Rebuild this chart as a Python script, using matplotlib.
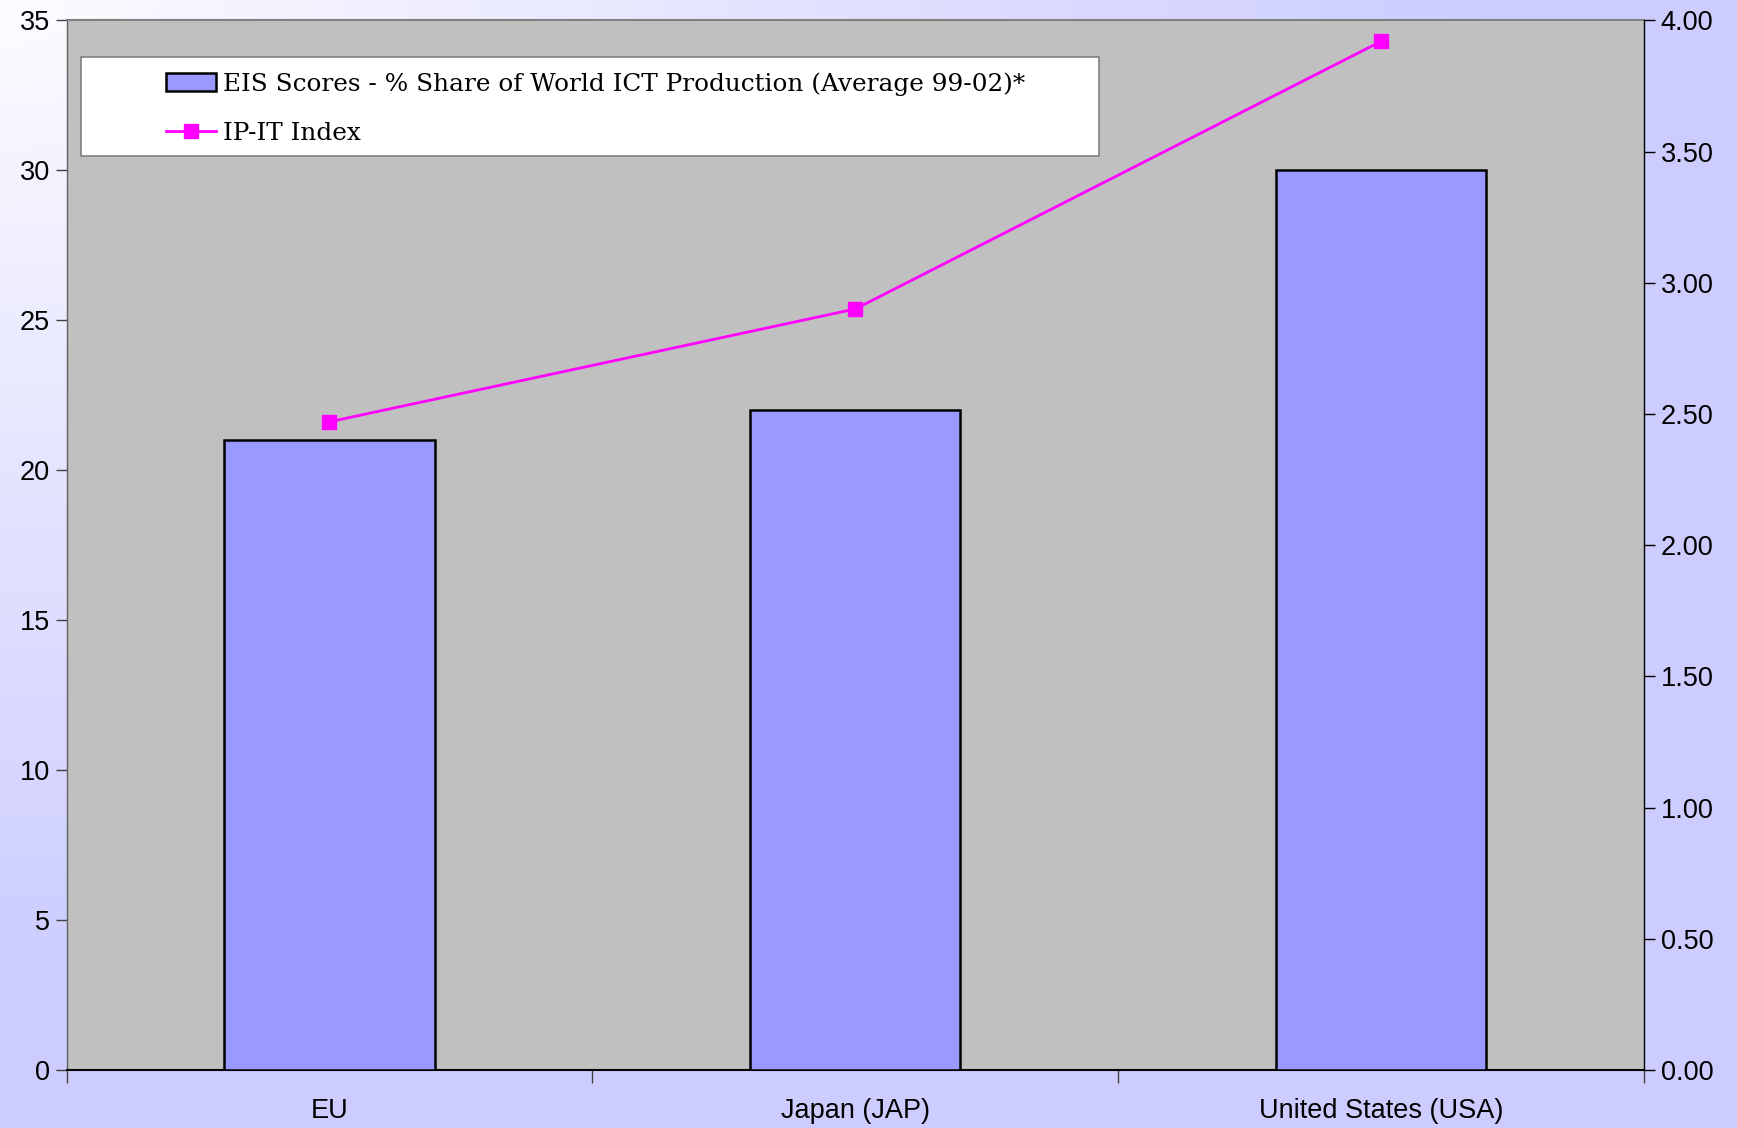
import numpy as np
import matplotlib
matplotlib.use("Agg")
import matplotlib.pyplot as plt
from matplotlib.patches import Rectangle
from matplotlib.ticker import FormatStrFormatter

categories = ["EU", "Japan (JAP)", "United States (USA)"]
ict_share = [21, 22, 30]
ipit_index = [2.47, 2.90, 3.92]

bar_label = "EIS Scores - % Share of World ICT Production (Average 99-02)*"
line_label = "IP-IT Index"

W, H = 1737, 1128
fig = plt.figure(figsize=(W / 100, H / 100), dpi=100)

# gradient background, white in the top left going to lavender
bg = fig.add_axes([0, 0, 1, 1], zorder=-10)
yy, xx = np.mgrid[0:1:200j, 0:1:300j]
t = np.clip(1.15 * np.sqrt(xx ** 2 + yy ** 2), 0, 1)[..., None]
white = np.array([252, 252, 255]) / 255
lav = np.array([204, 204, 255]) / 255
bg.imshow(white * (1 - t) + lav * t, aspect="auto", extent=[0, 1, 1, 0])
bg.set_axis_off()

ax = fig.add_axes([0.0383, 0.0514, 0.9082, 0.9306])
ax.set_facecolor("#c0c0c0")
x = np.arange(len(categories))
ax.bar(x, ict_share, width=0.4, color="#9999ff", edgecolor="black", linewidth=1.8, zorder=3)
ax.set_xlim(-0.5, len(categories) - 0.5)
ax.set_ylim(0, 35)
ax.set_yticks(range(0, 36, 5))

ax.set_xticks(np.arange(-0.5, len(categories), 1.0))
ax.set_xticklabels([])
ax.set_xticks(x, minor=True)
ax.set_xticklabels(categories, minor=True)
ax.tick_params(axis="x", which="major", length=9, width=1, color="#404040", direction="out")
ax.tick_params(axis="x", which="minor", length=0, pad=20)

tick_font = dict(family=["Liberation Sans", "DejaVu Sans"], size=19.5)
for lab in ax.get_xticklabels(minor=True) + ax.get_yticklabels():
    lab.set_fontfamily(tick_font["family"])
    lab.set_fontsize(tick_font["size"])
ax.tick_params(axis="y", length=8, width=1, pad=4, color="#404040")

ax.spines["top"].set_color("#808080")
ax.spines["top"].set_linewidth(1.5)
ax.spines["left"].set_color("#606060")
ax.spines["left"].set_linewidth(1)
ax.spines["bottom"].set_color("black")
ax.spines["bottom"].set_linewidth(1.5)
ax.spines["right"].set_visible(False)

ax2 = ax.twinx()
ax2.plot(x, ipit_index, color="#ff00ff", linewidth=2, marker="s", markersize=9.5, zorder=4)
ax2.set_ylim(0, 4)
ax2.set_yticks(np.arange(0, 4.01, 0.5))
ax2.yaxis.set_major_formatter(FormatStrFormatter("%.2f"))
for lab in ax2.get_yticklabels():
    lab.set_fontfamily(tick_font["family"])
    lab.set_fontsize(tick_font["size"])
ax2.tick_params(axis="y", length=8, width=1, pad=4)
ax2.spines["right"].set_color("black")
ax2.spines["right"].set_linewidth(1)
for s in ["top", "left", "bottom"]:
    ax2.spines[s].set_visible(False)

# legend box
ax2.add_patch(Rectangle((0.0091, 0.871), 0.6454, 0.094, transform=ax2.transAxes,
                        facecolor="white", edgecolor="#808080", linewidth=1.2, zorder=5))
bh = ax.containers[0].patches[0]
lh = ax2.get_lines()[0]
leg = ax2.legend([bh, lh], [bar_label, line_label], loc="center left",
                 bbox_to_anchor=(0.0632, 0.916), bbox_transform=ax2.transAxes,
                 frameon=False, borderpad=0, borderaxespad=0, handlelength=2.0,
                 handletextpad=0.3, labelspacing=1.05,
                 prop=dict(family=["DejaVu Serif"], size=17.8))
leg.set_zorder(6)

fig.savefig("out.png", dpi=100)
